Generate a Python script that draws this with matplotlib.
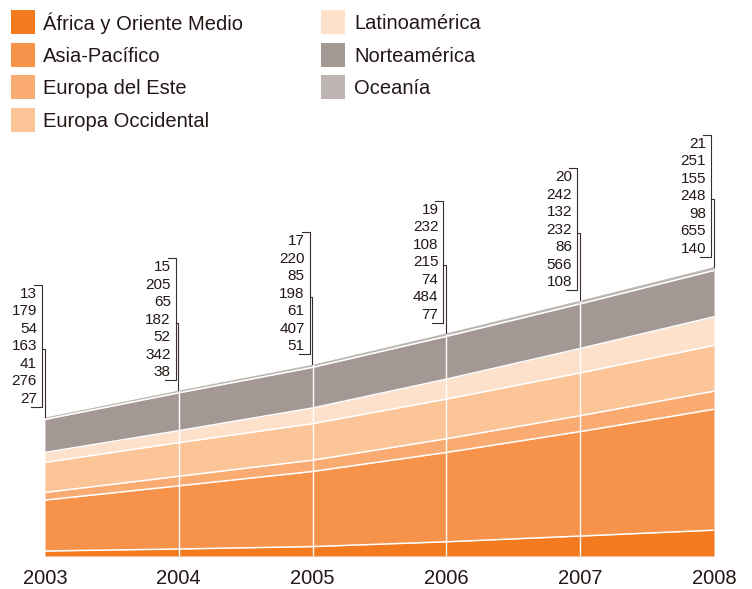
import numpy as np
import matplotlib
matplotlib.use("Agg")
import matplotlib.pyplot as plt
from matplotlib.patches import Rectangle
from matplotlib.lines import Line2D

plt.rcParams['font.family'] = ['Liberation Sans', 'DejaVu Sans']

years = [2003, 2004, 2005, 2006, 2007, 2008]
regions = ['África y Oriente Medio', 'Asia-Pacífico', 'Europa del Este',
           'Europa Occidental', 'Latinoamérica', 'Norteamérica', 'Oceanía']
africa_om = [27, 38, 51, 77, 108, 140]
asia_pac = [276, 342, 407, 484, 566, 655]
europa_este = [41, 52, 61, 74, 86, 98]
europa_occ = [163, 182, 198, 215, 232, 248]
latam = [54, 65, 85, 108, 132, 155]
norteam = [179, 205, 220, 232, 242, 251]
oceania = [13, 15, 17, 19, 20, 21]

colors = ['#F47A20', '#F6924A', '#F9AB72', '#FCC598', '#FEE1CB',
          '#A39893', '#BDB5B1']
text_color = '#231815'
line_color = '#3a2e2a'

W, H = 752, 589
fig = plt.figure(figsize=(W / 100, H / 100), dpi=100)

ax = fig.add_axes([45 / W, (H - 556) / H, (714 - 45) / W, (556 - 130) / H])
px_per_unit = 0.1846
ax.set_xlim(years[0], years[-1])
ax.set_ylim(0, 426 / px_per_unit)
ax.set_axis_off()

stack = np.array([africa_om, asia_pac, europa_este, europa_occ, latam, norteam, oceania], dtype=float)
cum = np.cumsum(stack, axis=0)
lower = np.vstack([np.zeros(len(years)), cum[:-1]])

for i in range(len(stack)):
    ax.fill_between(years, lower[i], cum[i], color=colors[i], lw=0, zorder=1)
for i in range(len(stack) - 1):
    ax.plot(years, cum[i], color='white', lw=1.1, zorder=2)
ax.vlines(years[1:-1], 0, cum[-1][1:-1], color='white', lw=1, zorder=3)

# year labels below the baseline
for yr in years:
    ax.annotate(str(yr), (yr, 0), xytext=(0, -16), textcoords='offset points',
                ha='center', va='center', fontsize=14.5, color=text_color,
                annotation_clip=False)

inv = fig.transFigure.inverted()


def at(yr, val, dx, dy):
    p = ax.transData.transform((yr, val))
    return inv.transform((p[0] + dx, p[1] + dy))


row = 17.5
first = 18
for j, yr in enumerate(years):
    total = cum[-1][j]
    vals = stack[:, j]  # bottom to top
    for k, v in enumerate(vals):
        x, y = at(yr, total, -8, first + k * row)
        fig.text(x, y, f"{int(v)}", ha='right', va='center', fontsize=11,
                 color=text_color)
    top = first + (len(vals) - 1) * row + 9
    bot = 10
    xb = -3
    # bracket around the column of values
    pts = [at(yr, total, xb - 8, top), at(yr, total, xb, top),
           at(yr, total, xb, bot), at(yr, total, xb - 11, bot)]
    fig.add_artist(Line2D([p[0] for p in pts], [p[1] for p in pts],
                          transform=fig.transFigure, color=line_color, lw=0.8))
    # leader down to the stack top
    lead_y = first + 3 * row - 3
    pts = [at(yr, total, xb, lead_y), at(yr, total, -0.5, lead_y),
           at(yr, total, -0.5, 0)]
    fig.add_artist(Line2D([p[0] for p in pts], [p[1] for p in pts],
                          transform=fig.transFigure, color=line_color, lw=0.8))


# legend
def fx(px):
    return px / W


def fy(py):
    return 1 - py / H


legend_cols = [(11, 43, [0, 1, 2, 3]), (321, 354, [4, 5, 6])]
for sq_x, tx, idxs in legend_cols:
    for r, idx in enumerate(idxs):
        cy = 22 + 32.7 * r
        fig.add_artist(Rectangle((fx(sq_x), fy(cy + 12)), 24 / W, 24 / H,
                                 transform=fig.transFigure, color=colors[idx], lw=0))
        fig.text(fx(tx), fy(cy + 1.5), regions[idx], ha='left', va='center',
                 fontsize=14.5, color=text_color)

fig.savefig('out.png', dpi=100)
